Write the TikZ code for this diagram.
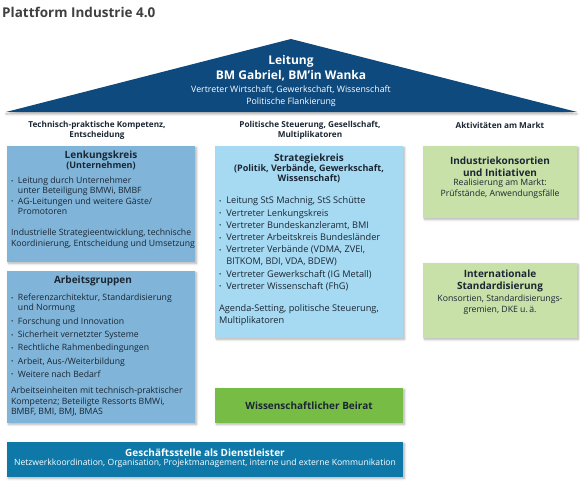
\documentclass[tikz,border=0pt]{standalone}
\usepackage{fontspec}
\setmainfont{Open Sans}
\usepackage{tikz}
\usetikzlibrary{positioning,shadows.blur}
\definecolor{roofblue}{HTML}{0F4A7E}
\definecolor{steel}{HTML}{80B5D9}
\definecolor{sky}{HTML}{A5DAF2}
\definecolor{leaf}{HTML}{77BC45}
\definecolor{pale}{HTML}{C8E1A9}
\definecolor{sea}{HTML}{0E78A8}
\definecolor{ink}{HTML}{1B2633}
\newcommand{\bul}{\makebox[0.8em][l]{\raisebox{0.1ex}{\fontsize{6}{6}\selectfont\textbullet}}}
\newcommand{\bulgap}{\hspace*{0.8em}}
\newcommand{\subhead}{\fontsize{9}{10.5}\selectfont}

\begin{document}
\begin{tikzpicture}[x=1pt, y=-1pt,
  panel/.style={inner sep=0pt, blur shadow={shadow xshift=1.5pt, shadow yshift=-1.5pt, shadow blur steps=6, shadow opacity=30}},
  ttl/.style={font=\fontsize{10}{12}\selectfont\bfseries, text=ink, align=center, inner sep=0pt},
  body/.style={font=\fontsize{8.7}{10.3}\selectfont, text=ink, align=left, inner sep=0pt},
  colhead/.style={font=\fontsize{8.2}{9.8}\selectfont\bfseries, text=ink, align=center, inner sep=0pt}]
\useasboundingbox (0,0) rectangle (580,494);
\node[anchor=west, inner sep=0pt, font=\fontsize{13.5}{15}\selectfont\bfseries, text=black!75] (title) at (2,12) {Plattform Industrie 4.0};

\fill[roofblue, blur shadow={shadow xshift=0pt, shadow yshift=-2pt, shadow blur steps=6, shadow opacity=35}] (6,112) -- (291,39) -- (577,112) -- cycle;
\node[font=\fontsize{12}{14.5}\selectfont\bfseries, text=white, align=center, inner sep=0pt] (lead) at (291,68) {Leitung\\BM Gabriel, BM’in Wanka};
\node[font=\fontsize{8.8}{12}\selectfont, text=white, align=center, inner sep=0pt] (reps) at (291,96.5) {Vertreter Wirtschaft, Gewerkschaft, Wissenschaft\\Politische Flankierung};

\node[colhead] (tech) at (97,130) {Technisch-praktische Kompetenz,\\Entscheidung};
\node[colhead] (pol) at (310,130) {Politische Steuerung, Gesellschaft,\\Multiplikatoren};
\node[colhead] (markt) at (500,125) {Aktivitäten am Markt};

\node[panel, fill=steel, minimum width=188pt, minimum height=116pt] (lenk) at (101,204) {};
\node[panel, fill=steel, minimum width=188pt, minimum height=152pt] (arbeit) at (101,347) {};
\node[panel, fill=sky, minimum width=188pt, minimum height=192pt] (strat) at (309,242) {};
\node[panel, fill=leaf, minimum width=188pt, minimum height=35pt] (beirat) at (309,405.5) {};
\node[panel, fill=pale, minimum width=154pt, minimum height=72pt] (indus) at (500,182) {};
\node[panel, fill=pale, minimum width=154pt, minimum height=75pt] (intl) at (500,300.5) {};
\node[panel, fill=sea, minimum width=396pt, minimum height=35pt] (gesch) at (205,459.5) {};

\node[ttl, below=5pt of lenk.north] (lenkT) {Lenkungskreis\\[-2pt]{\subhead (Unternehmen)}};
\node[body, below right=31pt and 4pt of lenk.north west] (lenkB) {\bul Leitung durch Unternehmer\\\bulgap unter Beteiligung BMWi, BMBF\\\bul AG-Leitungen und weitere Gäste/\\\bulgap Promotoren\\[11pt]Industrielle Strategieentwicklung, technische\\Koordinierung, Entscheidung und Umsetzung};

\node[ttl, below=5pt of arbeit.north, xshift=-8pt] (arbeitT) {Arbeitsgruppen};
\node[body, below right=23pt and 4pt of arbeit.north west] (arbeitB) {\bul Referenzarchitektur, Standardisierung\\\bulgap und Normung\\[3pt]\bul Forschung und Innovation\\[3pt]\bul Sicherheit vernetzter Systeme\\[3pt]\bul Rechtliche Rahmenbedingungen\\[3pt]\bul Arbeit, Aus-/Weiterbildung\\[3pt]\bul Weitere nach Bedarf\\[6pt]Arbeitseinheiten mit technisch-praktischer\\Kompetenz; Beteiligte Ressorts BMWi,\\BMBF, BMI, BMJ, BMAS};

\node[ttl, below=8pt of strat.north] (stratT) {Strategiekreis\\[-2pt]{\subhead (Politik, Verbände, Gewerkschaft,}\\[-2pt]{\subhead Wissenschaft)}};
\node[body, font=\fontsize{9.2}{12.2}\selectfont, below right=51pt and 4pt of strat.north west] (stratB) {\bul Leitung StS Machnig, StS Schütte\\\bul Vertreter Lenkungskreis\\\bul Vertreter Bundeskanzleramt, BMI\\\bul Vertreter Arbeitskreis Bundesländer\\\bul Vertreter Verbände (VDMA, ZVEI,\\\bulgap BITKOM, BDI, VDA, BDEW)\\\bul Vertreter Gewerkschaft (IG Metall)\\\bul Vertreter Wissenschaft (FhG)\\[10pt]Agenda-Setting, politische Steuerung,\\Multiplikatoren};

\node[ttl, below=11pt of indus.north] (indusT) {Industriekonsortien\\und Initiativen};
\node[body, font=\fontsize{8.7}{11}\selectfont, align=center, below=2pt of indusT] (indusB) {Realisierung am Markt:\\Prüfstände, Anwendungsfälle};

\node[ttl, below=7pt of intl.north] (intlT) {Internationale\\Standardisierung};
\node[body, font=\fontsize{8.7}{11}\selectfont, align=center, below=2pt of intlT] (intlB) {Konsortien, Standardisierungs-\\gremien, DKE u.\,ä.};

\node[ttl] (beiratT) at (beirat) {Wissenschaftlicher Beirat};

\node[ttl, text=white, below=7pt of gesch.north] (geschT) {Geschäftsstelle als Dienstleister};
\node[body, font=\fontsize{8.6}{10}\selectfont, text=white, below=2pt of geschT] (geschB) {Netzwerkkoordination, Organisation, Projektmanagement, interne und externe Kommunikation};
\end{tikzpicture}
\end{document}
